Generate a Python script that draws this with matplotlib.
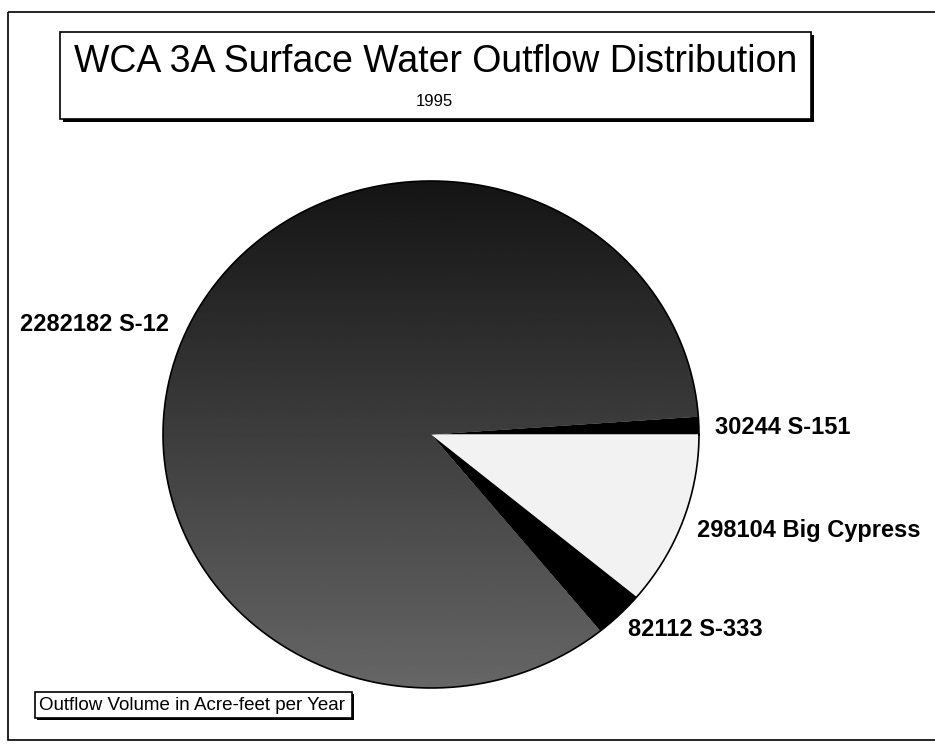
import matplotlib
matplotlib.use("Agg")
import matplotlib.pyplot as plt
import numpy as np
from matplotlib.patches import Rectangle

plt.rcParams['font.family'] = ['Liberation Sans', 'DejaVu Sans']

names = ["S-151", "Big Cypress", "S-333", "S-12"]
values = [30244, 298104, 82112, 2282182]
colors = ["#000000", "#f2f2f2", "#000000", "#3a3a3a"]
title = "WCA 3A Surface Water Outflow Distribution"
subtitle = "1995"
note = "Outflow Volume in Acre-feet per Year"

W, H = 935, 744
fig = plt.figure(figsize=(W / 100, H / 100), dpi=100)
fig.patch.set_facecolor("white")

def fx(x):
    return x / W

def fy(y):
    return 1 - y / H

# background axes in pixel coords for frames
bg = fig.add_axes([0, 0, 1, 1])
bg.set_xlim(0, W)
bg.set_ylim(H, 0)
bg.axis("off")
bg.add_patch(Rectangle((8, 12), W + 10, 728, fill=False, lw=1.2, ec="black"))
# title box with shadow
bg.add_patch(Rectangle((63, 35), 751, 87, fc="black", ec="black", lw=0))
bg.add_patch(Rectangle((60, 32), 751, 87, fc="white", ec="black", lw=1.2))
# note box with shadow
bg.add_patch(Rectangle((37, 694), 317, 26, fc="black", ec="black", lw=0))
bg.add_patch(Rectangle((35, 692), 317, 26, fc="white", ec="black", lw=1.2))

fig.text(fx(436), fy(62), title, fontsize=27, ha="center", va="center")
fig.text(fx(434), fy(101), subtitle, fontsize=12, ha="center", va="center")
fig.text(fx(39), fy(705), note, fontsize=13.5, ha="left", va="center")

# pie axes (slightly elliptical like the reference), padded so the rim is not clipped
left, right, top, bottom = 163, 699, 181, 688
pad = 6
rx = (right - left) / 2
ry = (bottom - top) / 2
pax = fig.add_axes([fx(left - pad), fy(bottom + pad),
                    (right - left + 2 * pad) / W, (bottom - top + 2 * pad) / H])
total = sum(values)
start = values[0] / total * 360
wedges, _ = pax.pie(values, colors=colors, startangle=start, counterclock=False,
                    radius=1, wedgeprops=dict(linewidth=0))
pax.set_aspect("auto")

# gradient fill for the large slice: dark at top, lighter toward the bottom
grad = np.linspace(0.08, 0.40, 256).reshape(-1, 1)
im = pax.imshow(grad, cmap="gray", vmin=0, vmax=1, extent=(-1, 1, -1, 1),
                origin="upper", aspect="auto", zorder=2, interpolation="bilinear")
im.set_clip_path(wedges[3])
pax.set_xlim(-1 - pad / rx, 1 + pad / rx)
pax.set_ylim(-1 - pad / ry, 1 + pad / ry)
pax.axis("off")
# outline
th = np.linspace(0, 2 * np.pi, 400)
pax.plot(np.cos(th), np.sin(th), color="black", lw=1.2, zorder=3)

label_pos = {"S-151": (715, 427), "Big Cypress": (697, 530),
             "S-333": (628, 630), "S-12": (20, 325)}
for n, v in zip(names, values):
    x, y = label_pos[n]
    fig.text(fx(x), fy(y), f"{v} {n}", fontsize=17, fontweight="bold",
             ha="left", va="center")

fig.savefig("out.png", dpi=100)
